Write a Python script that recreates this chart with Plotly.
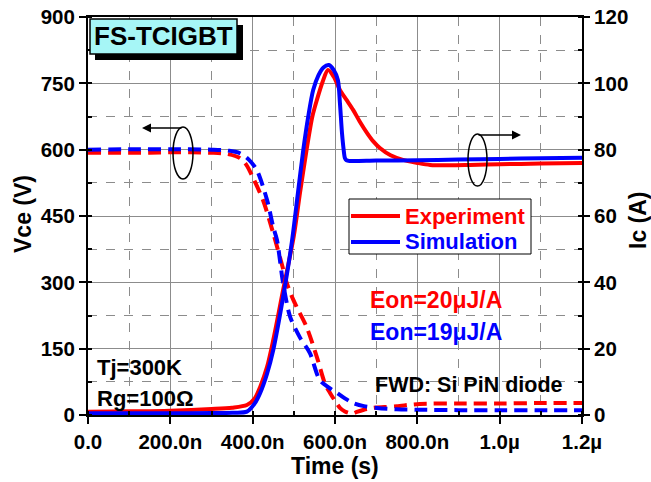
import plotly.graph_objects as go

# ---------------- data (time in ns) ----------------
t_vce_exp = [0, 50, 100, 150, 200, 250, 300, 340, 369, 385, 400, 425, 450, 474, 483, 498, 507, 531, 556, 576, 588, 600, 612, 624, 636, 645, 653, 670, 693, 720, 750, 806, 900, 1000, 1100, 1200]
vce_exp = [593, 593, 593, 593, 594, 594, 593, 590, 581, 565, 538, 486, 411, 330, 298, 262, 244, 199, 131, 70, 50, 32, 16, 8, 4, 4, 7, 12, 16, 18, 20, 25, 26, 26, 27, 27]

t_vce_sim = [0, 100, 200, 300, 340, 369, 390, 410, 435, 450, 459, 474, 491, 515, 539, 563, 585, 605, 625, 644, 670, 702, 750, 800, 900, 1000, 1100, 1200]
vce_sim = [600, 601, 601, 600, 598, 592, 578, 554, 486, 425, 396, 298, 222, 175, 140, 79, 62, 50, 37, 27, 20, 16, 13, 12, 11, 11, 11, 11]

t_ic_exp = [0, 100, 200, 300, 350, 386, 405, 418, 435, 450, 474, 500, 515, 531, 545, 556, 570, 583, 597, 612, 628, 644, 660, 678, 693, 709, 735, 765, 800, 831, 880, 928, 1000, 1100, 1200]
ic_exp = [1.0, 1.1, 1.3, 1.8, 2.2, 3.0, 5.0, 8.4, 14.5, 22.6, 37.7, 54, 67, 80, 90, 95, 100.5, 104, 102, 98, 95, 92, 88.5, 85, 82.5, 80.5, 78.3, 76.9, 76, 75.4, 75.3, 75.4, 75.6, 75.8, 76]

t_ic_sim = [0, 100, 200, 300, 350, 386, 405, 418, 435, 450, 474, 495, 510, 523, 535, 547, 560, 572, 585, 597, 607, 612, 617, 621, 624, 628, 635, 700, 800, 900, 1000, 1100, 1200]
ic_sim = [0.5, 0.5, 0.5, 0.6, 0.7, 1.0, 3.5, 6.6, 12.5, 19.6, 35.6, 52, 67, 80, 90, 98, 102.5, 104.8, 105.5, 104, 101, 94, 85, 80, 77.5, 76.8, 76.6, 76.7, 76.8, 77, 77.2, 77.4, 77.6]

x_tickvals = [0, 200, 400, 600, 800, 1000, 1200]
x_ticktext = ["0.0", "200.0n", "400.0n", "600.0n", "800.0n", "1.0\u00b5", "1.2\u00b5"]

series_names = ["Experiment", "Simulation"]

RED = "#ff0000"
BLUE = "#0000ff"
FONT = "Liberation Sans, Arial, sans-serif"

# plot area in pixels (for placing decorations)
PL, PR, PT, PB = 88, 582, 17, 415
def px(x):
    return (x - PL) / (PR - PL)
def py(y):
    return (PB - y) / (PB - PT)

fig = go.Figure()
dash = "13px,7px"
fig.add_trace(go.Scatter(x=t_vce_exp, y=vce_exp, mode="lines", yaxis="y",
                         line=dict(color=RED, width=4, dash=dash, shape="spline", smoothing=0.8),
                         name=series_names[0] + " Vce", showlegend=False))
fig.add_trace(go.Scatter(x=t_vce_sim, y=vce_sim, mode="lines", yaxis="y",
                         line=dict(color=BLUE, width=4, dash=dash, shape="spline", smoothing=0.8),
                         name=series_names[1] + " Vce", showlegend=False))
fig.add_trace(go.Scatter(x=t_ic_exp, y=ic_exp, mode="lines", yaxis="y2",
                         line=dict(color=RED, width=4, shape="spline", smoothing=0.8),
                         name=series_names[0] + " Ic", showlegend=False))
fig.add_trace(go.Scatter(x=t_ic_sim, y=ic_sim, mode="lines", yaxis="y2",
                         line=dict(color=BLUE, width=4, shape="spline", smoothing=0.8),
                         name=series_names[1] + " Ic", showlegend=False))

tickfont = dict(family=FONT, size=20.5, color="black", weight="bold")
grid = "#8c8c8c"

fig.update_layout(
    width=651, height=482, autosize=False,
    margin=dict(l=PL, r=651 - PR, t=PT, b=482 - PB, autoexpand=False),
    paper_bgcolor="white", plot_bgcolor="white",
    showlegend=False,
    xaxis=dict(range=[0, 1200], tickvals=x_tickvals, ticktext=x_ticktext,
               showline=True, linecolor="black", linewidth=2, mirror=True,
               ticks="outside", ticklen=7, tickwidth=2, tickcolor="black",
               showgrid=True, gridcolor=grid, gridwidth=1,
               minor=dict(dtick=100, tick0=0, showgrid=True, gridcolor=grid, griddash="dash",
                          gridwidth=1, ticks="inside", ticklen=4, tickcolor="black"),
               tickfont=tickfont, zeroline=False, automargin=False),
    yaxis=dict(range=[0, 900], dtick=150, tick0=0,
               showline=True, linecolor="black", linewidth=2,
               ticks="outside", ticklen=7, tickwidth=2, tickcolor="black",
               showgrid=True, gridcolor=grid, gridwidth=1,
               minor=dict(dtick=75, tick0=0, showgrid=True, gridcolor=grid, griddash="dash",
                          gridwidth=1, ticks="inside", ticklen=4, tickcolor="black"),
               tickfont=tickfont, zeroline=False, automargin=False),
    yaxis2=dict(range=[0, 120], dtick=20, tick0=0, overlaying="y", side="right",
                showline=True, linecolor="black", linewidth=2,
                ticks="outside", ticklen=6, tickwidth=2, tickcolor="black",
                showgrid=False,
                minor=dict(dtick=10, tick0=0, ticks="inside", ticklen=4, tickcolor="black"),
                tickfont=tickfont, zeroline=False, automargin=False),
)

shapes = [
    # title box shadow and box
    dict(type="rect", xref="paper", yref="paper", x0=px(95), x1=px(243), y0=py(60), y1=py(25),
         fillcolor="black", line=dict(width=0), layer="above"),
    dict(type="rect", xref="paper", yref="paper", x0=px(90), x1=px(237), y0=py(54), y1=py(19),
         fillcolor="#a6f6f6", line=dict(color="black", width=1.5), layer="above"),
    # ellipses
    dict(type="circle", xref="paper", yref="paper", x0=px(173), x1=px(193), y0=py(179), y1=py(127),
         line=dict(color="black", width=1.5), layer="above"),
    dict(type="circle", xref="paper", yref="paper", x0=px(468), x1=px(487), y0=py(186), y1=py(134),
         line=dict(color="black", width=1.5), layer="above"),
    # legend box and samples
    dict(type="rect", xref="paper", yref="paper", x0=px(349), x1=px(531), y0=py(254), y1=py(199),
         fillcolor="white", line=dict(color="black", width=1), layer="above"),
    dict(type="line", xref="paper", yref="paper", x0=px(351), x1=px(400), y0=py(216), y1=py(216),
         line=dict(color=RED, width=4), layer="above"),
    dict(type="line", xref="paper", yref="paper", x0=px(351), x1=px(400), y0=py(242), y1=py(242),
         line=dict(color=BLUE, width=4), layer="above"),
]
fig.update_layout(shapes=shapes)

def text(x, y, s, color="black", size=20, anchor="left", angle=0):
    fig.add_annotation(xref="paper", yref="paper", x=x, y=y, text=s, showarrow=False,
                       xanchor=anchor, yanchor="middle", textangle=angle,
                       font=dict(family=FONT, size=size, color=color, weight="bold"))

text(px(403), py(216), series_names[0], color=RED, size=22)
text(px(403), py(242), series_names[1], color=BLUE, size=22)
text(px(92), py(36), "FS-TCIGBT", size=26)
text(px(95), py(367), "Tj=300K", size=22)
text(px(95), py(398), "Rg=100\u03a9", size=22)
text(px(368), py(300), "Eon=20\u03bcJ/A", color=RED, size=23)
text(px(368), py(332), "Eon=19\u03bcJ/A", color=BLUE, size=23)
text(px(373), py(385), "FWD: Si PiN diode", size=21.5)
text(px(23), py(214), "Vce (V)", size=23, anchor="center", angle=-90)
text(px(638), py(220), "Ic (A)", size=23, anchor="center", angle=-90)
text(px(335), py(466), "Time (s)", size=23, anchor="center")

# arrows
fig.add_annotation(xref="paper", yref="paper", x=px(142), y=py(128), ax=41, ay=0, text="",
                   showarrow=True, arrowhead=2, arrowsize=1.2, arrowwidth=1.5, arrowcolor="black")
fig.add_annotation(xref="paper", yref="paper", x=px(521), y=py(135), ax=-44, ay=0, text="",
                   showarrow=True, arrowhead=2, arrowsize=1.2, arrowwidth=1.5, arrowcolor="black")

fig.write_html("out.html", config={"displayModeBar": False},
               post_script="document.body.style.margin='0';document.body.style.overflow='hidden';")
